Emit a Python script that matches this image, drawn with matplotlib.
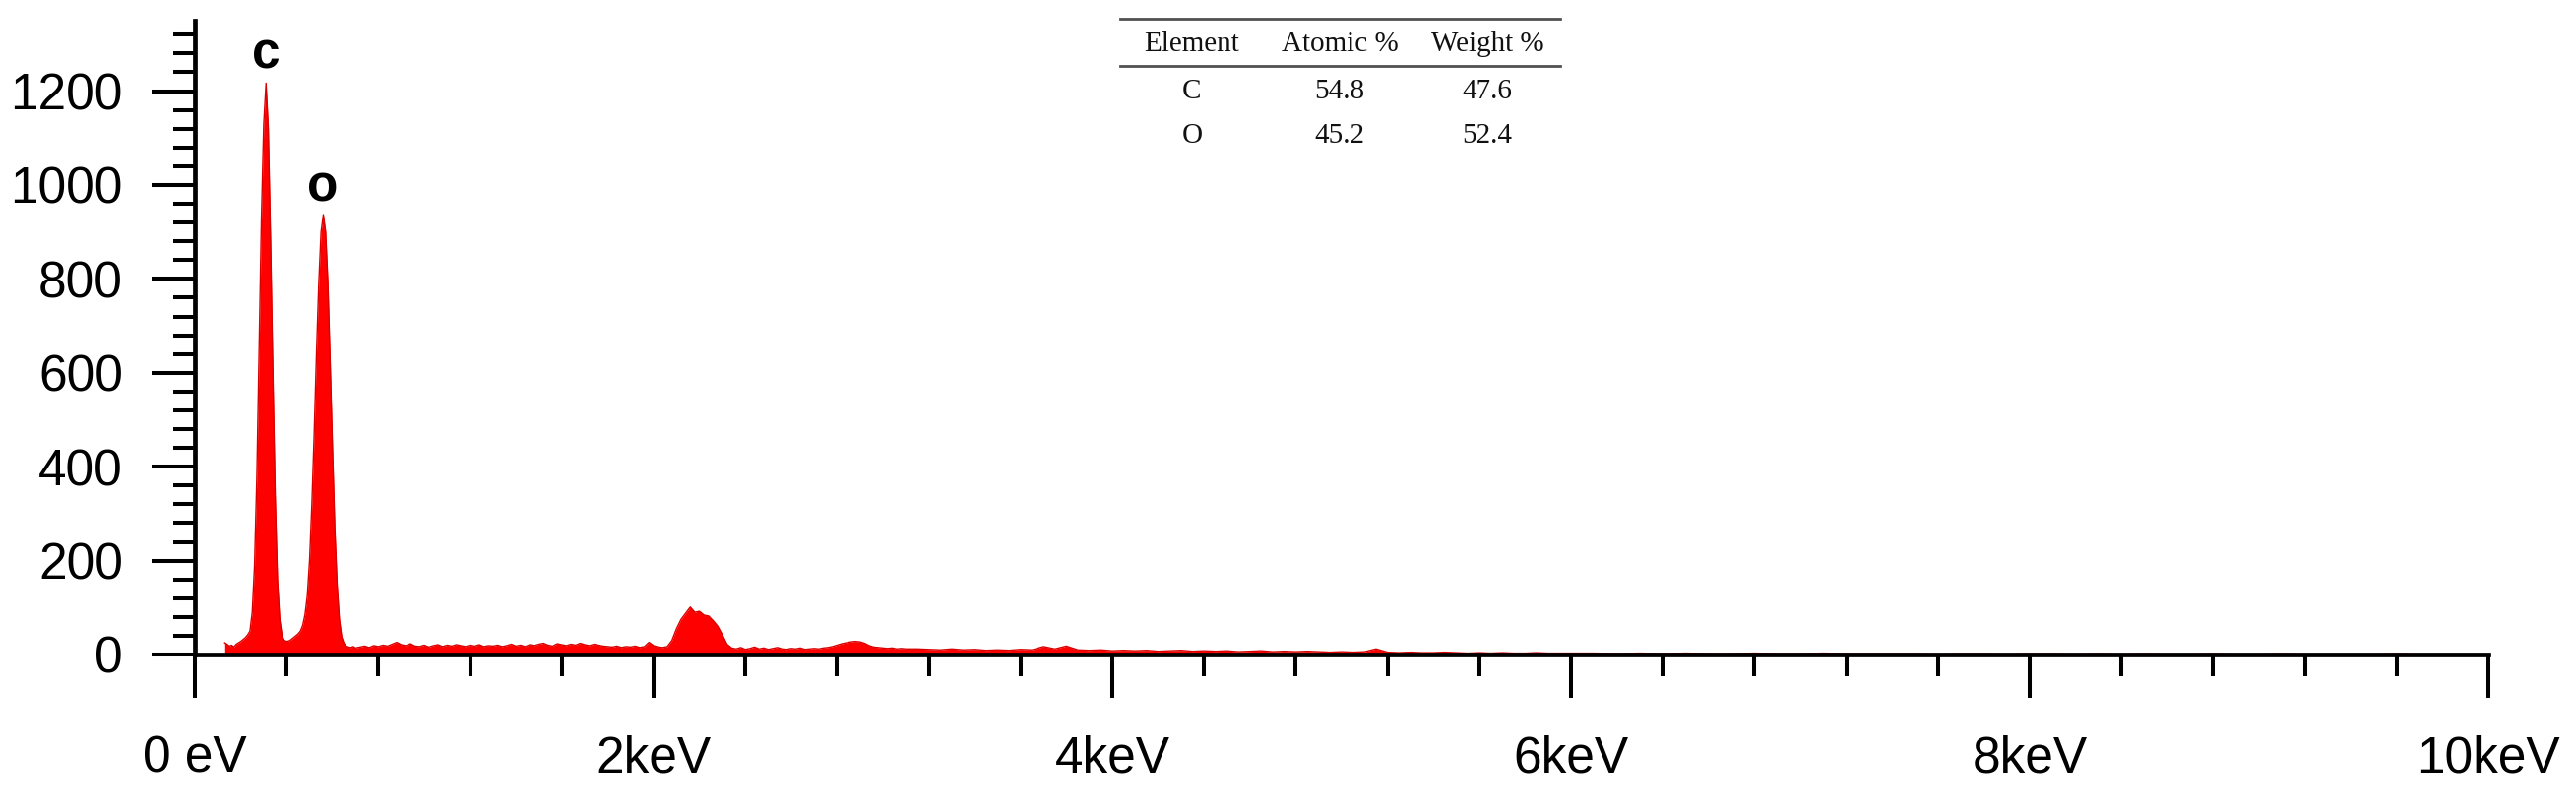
import numpy as np
import matplotlib
matplotlib.use("Agg")
import matplotlib.pyplot as plt
from matplotlib.lines import Line2D

# EDS spectrum (energy in keV, counts)
energy_peaks = [0.13, 0.14, 0.15, 0.16, 0.17, 0.18, 0.19, 0.20, 0.21, 0.22, 0.23, 0.24,
                0.25, 0.26, 0.27, 0.28, 0.29, 0.30, 0.31, 0.32, 0.33, 0.34, 0.35, 0.36,
                0.37, 0.38, 0.39, 0.40, 0.41, 0.42, 0.43, 0.44, 0.45, 0.46, 0.47, 0.48,
                0.49, 0.50, 0.51, 0.52, 0.53, 0.54, 0.55, 0.56, 0.57, 0.58, 0.59, 0.60,
                0.61, 0.62, 0.63, 0.64, 0.65, 0.66, 0.67, 0.68, 0.69, 0.70]
counts_peaks = [25, 22, 18, 20, 16, 22, 25, 28, 32, 36, 42, 50,
                90, 190, 380, 650, 930, 1130, 1217, 1120, 880, 600, 340, 160,
                75, 40, 30, 28, 29, 32, 36, 40, 44, 50, 62, 85,
                125, 200, 320, 470, 640, 790, 900, 937, 900, 790, 620, 440,
                270, 150, 75, 38, 24, 18, 16, 15, 17, 14]

energy_low = [0.72, 0.74, 0.76, 0.78, 0.80, 0.82, 0.84, 0.86, 0.88, 0.90, 0.92, 0.94,
              0.96, 0.98, 1.00, 1.02, 1.04, 1.06, 1.08, 1.10, 1.12, 1.14, 1.16, 1.18,
              1.20, 1.22, 1.24, 1.26, 1.28, 1.30, 1.32, 1.34, 1.36, 1.38, 1.40, 1.42,
              1.44, 1.46, 1.48, 1.50, 1.52, 1.54, 1.56, 1.58, 1.60, 1.62, 1.64, 1.66,
              1.68, 1.70, 1.72, 1.74, 1.76, 1.78, 1.80, 1.82, 1.84, 1.86, 1.88, 1.90,
              1.92, 1.94, 1.96, 1.98, 2.00, 2.02, 2.04, 2.06,
              2.08, 2.10, 2.12, 2.14, 2.16, 2.18, 2.20, 2.22, 2.24, 2.26, 2.28, 2.30,
              2.32, 2.34, 2.36, 2.38, 2.40, 2.42, 2.44, 2.46, 2.48, 2.50, 2.52, 2.54,
              2.56, 2.58, 2.60, 2.62, 2.64, 2.66, 2.68, 2.70, 2.72, 2.74, 2.76, 2.78,
              2.80, 2.82, 2.84, 2.86, 2.88, 2.90, 2.92, 2.94, 2.96, 2.98, 3.00, 3.02,
              3.04, 3.06, 3.08, 3.10]
counts_low = [16, 18, 15, 19, 17, 20, 18, 22, 26, 21, 19, 23,
              18, 17, 20, 16, 19, 21, 17, 20, 18, 21, 19, 17,
              20, 18, 21, 17, 19, 18, 20, 17, 19, 22, 18, 20,
              17, 21, 19, 22, 24, 20, 18, 23, 21, 19, 22, 20,
              24, 21, 19, 22, 20, 18, 17, 16, 18, 15, 17, 16,
              18, 15, 17, 26, 19, 16, 15, 17,
              30, 55, 75, 88, 101, 90, 92, 84, 82, 72, 60, 42,
              22, 14, 12, 15, 11, 13, 16, 12, 14, 11, 13, 15,
              12, 11, 13, 12, 14, 11, 12, 13, 12, 14, 15, 17,
              20, 23, 25, 27, 28, 27, 24, 19, 16, 15, 14, 13,
              14, 12, 13, 12]

energy_mid = [3.15, 3.20, 3.25, 3.30, 3.35, 3.40, 3.45, 3.50, 3.55, 3.60, 3.65, 3.70,
              3.75, 3.80, 3.85, 3.90, 3.95, 4.00, 4.05, 4.10, 4.15, 4.20, 4.25, 4.30,
              4.35, 4.40, 4.45, 4.50, 4.55, 4.60, 4.65, 4.70, 4.75, 4.80, 4.85, 4.90,
              4.95, 5.00, 5.05, 5.10, 5.15, 5.20, 5.25, 5.30, 5.35, 5.40, 5.45, 5.50,
              5.55, 5.60, 5.65, 5.70, 5.75, 5.80, 5.85, 5.90, 5.95, 6.00]
counts_mid = [12, 11, 10, 12, 10, 11, 9, 10, 9, 11, 10, 17,
              12, 18, 10, 9, 10, 8, 9, 8, 9, 7, 8, 9,
              7, 8, 7, 8, 6, 7, 8, 6, 7, 6, 7, 6,
              5, 6, 5, 6, 12, 5, 4, 5, 4, 4, 5, 4,
              3, 4, 3, 4, 3, 3, 4, 3, 3, 3]

energy_high = [6.1, 6.2, 6.3, 6.4, 6.5, 6.6, 6.7, 6.8, 6.9, 7.0, 7.1, 7.2, 7.3,
               7.4, 7.5, 7.6, 7.7, 7.8, 7.9, 8.0, 8.1, 8.2, 8.3, 8.4, 8.5, 8.6,
               8.7, 8.8, 8.9, 9.0, 9.1, 9.2, 9.3, 9.4, 9.5, 9.6, 9.7, 9.8, 9.9, 10.0]
counts_high = [3, 2, 3, 2, 3, 2, 2, 3, 2, 2, 3, 2, 2,
               2, 2, 1, 2, 2, 1, 2, 2, 1, 2, 1, 2, 1,
               1, 2, 1, 1, 2, 1, 1, 1, 1, 2, 1, 1, 1, 1]

peak_labels = ["c", "o"]
peak_label_x = [0.309, 0.558]
peak_label_y = [1277, 994]

x_ticks = [0, 2, 4, 6, 8, 10]
x_tick_labels = ["0 eV", "2keV", "4keV", "6keV", "8keV", "10keV"]
y_ticks = [0, 200, 400, 600, 800, 1000, 1200]

table_header = ["Element", "Atomic %", "Weight %"]
elements = ["C", "O"]
atomic_pct = [54.8, 45.2]
weight_pct = [47.6, 52.4]

sans = ["Liberation Sans", "DejaVu Sans"]

energy = np.array(energy_peaks + energy_low + energy_mid + energy_high)
counts = np.array(counts_peaks + counts_low + counts_mid + counts_high)

fig = plt.figure(figsize=(26.17, 8.24), dpi=100)
ax = fig.add_axes([198 / 2617, 159 / 824, 2330 / 2617, 644 / 824])

ax.fill_between(energy, counts, 0, color="#ff0000", lw=0)
ax.plot(energy, counts, color="#d80000", lw=1.0)

ax.set_xlim(0, 10)
ax.set_ylim(0, 1350)

for s in ["top", "right"]:
    ax.spines[s].set_visible(False)
for s in ["left", "bottom"]:
    ax.spines[s].set_linewidth(3.4)

ax.set_xticks(x_ticks)
ax.set_xticklabels(x_tick_labels, family=sans, fontsize=37)
ax.set_xticks(np.arange(0, 10.01, 0.4), minor=True)
ax.set_yticks(y_ticks)
ax.set_yticklabels([str(v) for v in y_ticks], family=sans, fontsize=37)
ax.set_yticks(np.arange(0, 1341, 40), minor=True)

ax.tick_params(which="major", direction="out", length=31.7, width=2.9)
ax.tick_params(which="minor", direction="out", length=15.8, width=2.9)
ax.tick_params(axis="x", which="major", pad=27)
ax.tick_params(axis="y", which="major", pad=21)

for lab, xp, yp in zip(peak_labels, peak_label_x, peak_label_y):
    ax.text(xp, yp, lab, ha="center", va="center", fontsize=37,
            fontweight="bold", family=sans)

# little table in the top middle
col_x = [1211 / 2617, 1361 / 2617, 1511 / 2617]
row_y = [1 - 45 / 824, 1 - 93 / 824, 1 - 138 / 824]
tfont = dict(family=["Liberation Serif", "DejaVu Serif"], fontsize=21,
             color="#111111", ha="center", va="center")
for cx, h in zip(col_x, table_header):
    fig.text(cx, row_y[0], h, **tfont)
for i in range(len(elements)):
    fig.text(col_x[0], row_y[i + 1], elements[i], **tfont)
    fig.text(col_x[1], row_y[i + 1], f"{atomic_pct[i]:.1f}", **tfont)
    fig.text(col_x[2], row_y[i + 1], f"{weight_pct[i]:.1f}", **tfont)
for ry in [1 - 19 / 824, 1 - 66.7 / 824]:
    fig.add_artist(Line2D([1138 / 2617, 1585 / 2617], [ry, ry],
                          transform=fig.transFigure, color="#505050", lw=2))

fig.savefig("out.png", dpi=100)
